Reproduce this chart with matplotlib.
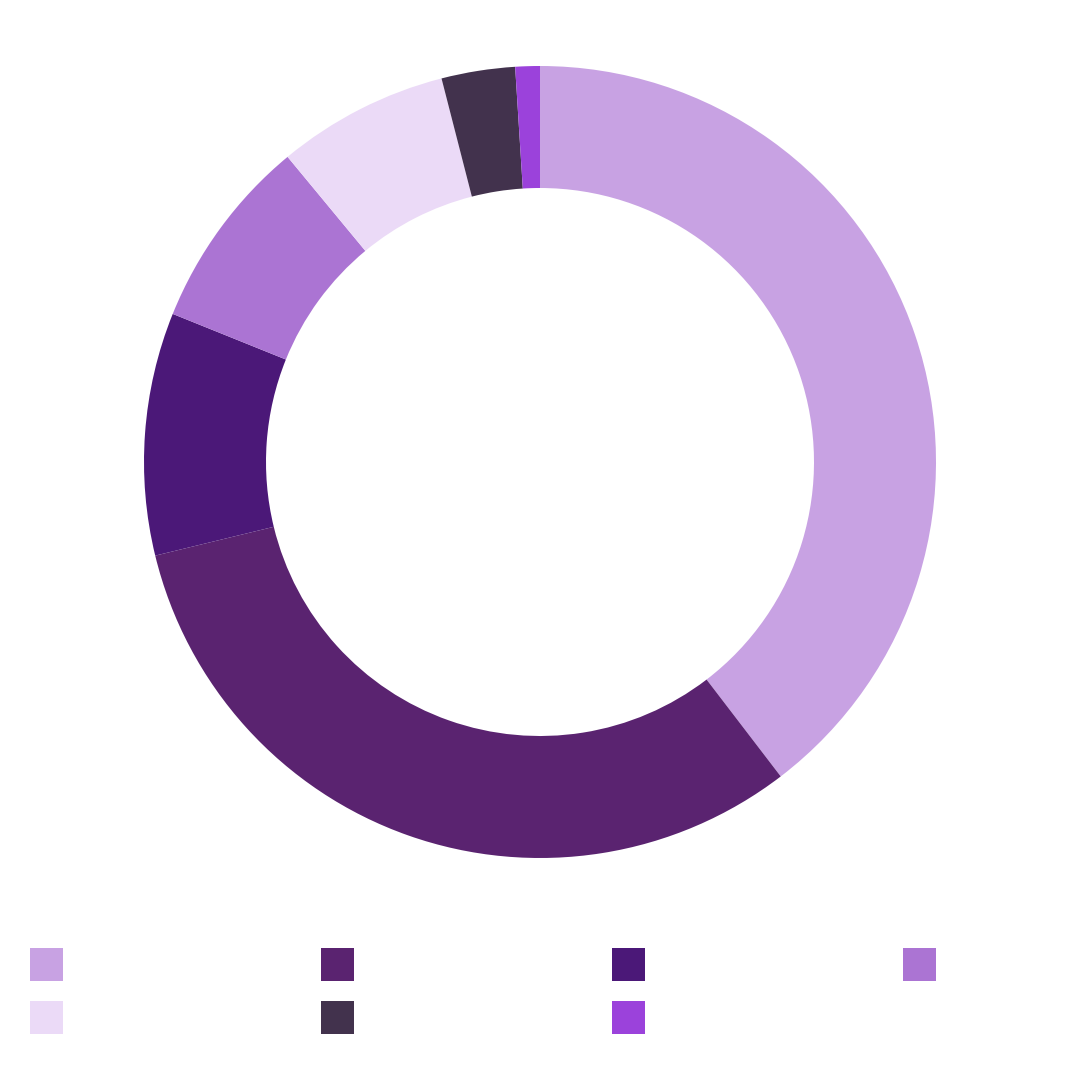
import matplotlib
matplotlib.use("Agg")
import matplotlib.pyplot as plt
from matplotlib.patches import Rectangle

categories = ["A", "B", "C", "D", "E", "F", "G"]
values = [39.6, 31.6, 9.9, 7.9, 7.0, 3.0, 1.0]
colors = ["#C8A2E3", "#5A2370", "#4B1878", "#AB74D3", "#EBDAF7", "#42324D", "#9B42DB"]

W = H = 1080
fig = plt.figure(figsize=(10.8, 10.8), dpi=100)
fig.patch.set_facecolor("white")

R = 396
cx, cy = 540, 462
ax = fig.add_axes([(cx - R) / W, (H - (cy + R)) / H, 2 * R / W, 2 * R / H])
ax.pie(values, colors=colors, startangle=90, counterclock=False, radius=1,
       wedgeprops=dict(width=1 - 274 / 396, edgecolor="none", linewidth=0))
ax.set_xlim(-1, 1)
ax.set_ylim(-1, 1)
ax.set_aspect("equal")
ax.axis("off")

# legend squares (no text labels in the reference)
sq = 33
for i, (cat, col) in enumerate(zip(categories, colors)):
    c = i % 4
    r = i // 4
    x0 = 30 + c * 291
    y0 = 948 + r * 53
    fig.patches.append(Rectangle((x0 / W, (H - y0 - sq) / H), sq / W, sq / H,
                                 transform=fig.transFigure, facecolor=col,
                                 edgecolor="none", label=cat))

fig.savefig("out.png", dpi=100, facecolor="white")
